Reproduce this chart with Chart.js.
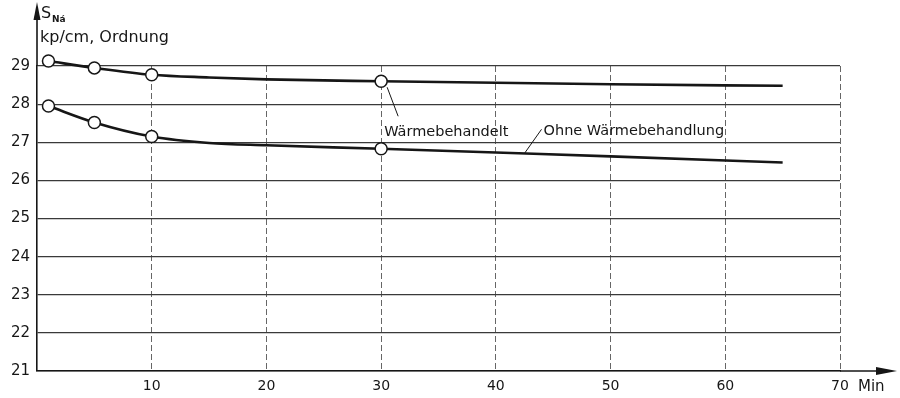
<!DOCTYPE html>
<html>
<head>
<meta charset="utf-8">
<script src="https://cdn.jsdelivr.net/npm/chart.js@4.4.0/dist/chart.umd.min.js"></script>
<style>
  html,body{margin:0;padding:0;background:#fff;}
  #wrap{width:900px;height:398px;position:relative;}
</style>
</head>
<body>
<div id="wrap"><canvas id="c" width="900" height="398"></canvas></div>
<script>
  // measured points (circles)
  const markTimes   = [1, 5, 10, 30];
  const treatedMarks   = [29.13, 28.95, 28.77, 28.6];
  const untreatedMarks = [27.95, 27.52, 27.15, 26.83];

  // drawn curve
  const curveTimes  = [1, 5, 10, 15, 20, 30, 40, 50, 65];
  const treatedCurve   = [29.13, 28.95, 28.77, 28.7, 28.65, 28.6, 28.56, 28.52, 28.48];
  const untreatedCurve = [27.95, 27.52, 27.15, 26.98, 26.92, 26.83, 26.73, 26.63, 26.47];

  const xTicks = [10, 20, 30, 40, 50, 60, 70];
  const yTicks = [21, 22, 23, 24, 25, 26, 27, 28, 29];

  const FONT = 'DejaVu Sans';
  const INK = '#161616';

  const pts = (xs, ys) => xs.map((x,i)=>({x, y:ys[i]}));

  const curveDs = (label, data) => ({
    label, data, borderColor: INK, borderWidth: 2.6, pointRadius: 0,
    cubicInterpolationMode: 'monotone', fill: false, clip: false, order: 2
  });
  const markDs = (label, data) => ({
    label, data, showLine: false, pointRadius: 6, pointBackgroundColor: '#fff',
    pointBorderColor: INK, pointBorderWidth: 1.5, clip: false, order: 1
  });

  // arrows, axis title, leader labels
  const decor = {
    id: 'decor',
    afterDraw(chart){
      const {ctx, chartArea:a, scales:{x, y}} = chart;
      ctx.save();
      ctx.strokeStyle = INK; ctx.fillStyle = INK; ctx.lineWidth = 1.6;
      // y axis extension + arrow
      ctx.beginPath(); ctx.moveTo(a.left, a.top); ctx.lineTo(a.left, 14); ctx.stroke();
      ctx.beginPath(); ctx.moveTo(a.left, 2); ctx.lineTo(a.left-3.5, 20); ctx.lineTo(a.left+3.5, 20); ctx.closePath(); ctx.fill();
      // x axis extension + arrow
      ctx.beginPath(); ctx.moveTo(a.right, a.bottom); ctx.lineTo(885, a.bottom); ctx.stroke();
      ctx.beginPath(); ctx.moveTo(897, a.bottom); ctx.lineTo(876, a.bottom-4); ctx.lineTo(876, a.bottom+4); ctx.closePath(); ctx.fill();

      // axis title
      ctx.textBaseline = 'alphabetic'; ctx.textAlign = 'left';
      ctx.font = '16px ' + FONT;
      ctx.fillText('S', 41, 18);
      ctx.font = 'bold 9px ' + FONT;
      ctx.fillText('Ná', 52, 22);
      ctx.font = '16px ' + FONT;
      ctx.fillText('kp/cm, Ordnung', 40, 42);
      ctx.font = '15px ' + FONT;
      ctx.fillText('Min', 858, 391);

      // leader labels
      ctx.font = '14.5px ' + FONT;
      ctx.lineWidth = 1;
      const px = x.getPixelForValue(30), py = y.getPixelForValue(treatedMarks[3]);
      ctx.beginPath(); ctx.moveTo(px+6, py+6); ctx.lineTo(px+17, py+35); ctx.stroke();
      ctx.fillText('Wärmebehandelt', px+3, py+55);
      const qx = x.getPixelForValue(42.5), qy = y.getPixelForValue(26.71);
      ctx.beginPath(); ctx.moveTo(qx, qy); ctx.lineTo(qx+17, qy-24); ctx.stroke();
      ctx.fillText('Ohne Wärmebehandlung', qx+19, qy-18);
      ctx.restore();
    }
  };

  new Chart(document.getElementById('c'), {
    type: 'line',
    data: {
      datasets: [
        markDs('Wärmebehandelt (Messpunkte)', pts(markTimes, treatedMarks)),
        markDs('Ohne Wärmebehandlung (Messpunkte)', pts(markTimes, untreatedMarks)),
        curveDs('Wärmebehandelt', pts(curveTimes, treatedCurve)),
        curveDs('Ohne Wärmebehandlung', pts(curveTimes, untreatedCurve))
      ]
    },
    options: {
      responsive: false, animation: false,
      layout: { padding: { top: 66, right: 60, left: 0, bottom: 0 } },
      plugins: { legend: { display: false }, tooltip: { enabled: false } },
      scales: {
        x: {
          type: 'linear', min: 0, max: 70,
          afterBuildTicks: s => { s.ticks = [0, ...xTicks].map(v=>({value:v})); },
          afterFit: s => { s.height = 27; },
          grid: { color: c => (c.tick && c.tick.value === 0) ? 'rgba(0,0,0,0)' : '#666',
                  lineWidth: 1, drawTicks: false },
          border: { display: true, color: INK, width: 1.6, dash: [6, 3] },
          ticks: { color: INK, padding: 7, font: { family: FONT, size: 14 },
                   callback: v => v === 0 ? '' : v }
        },
        y: {
          min: 21, max: 29,
          afterBuildTicks: s => { s.ticks = yTicks.map(v=>({value:v})); },
          afterFit: s => { s.width = 37; },
          grid: { color: '#3a3a3a', lineWidth: 1.2, drawTicks: false },
          border: { display: true, color: INK, width: 1.6 },
          ticks: { color: INK, padding: 7, font: { family: FONT, size: 15 } }
        }
      }
    },
    plugins: [decor]
  });
</script>
</body>
</html>
